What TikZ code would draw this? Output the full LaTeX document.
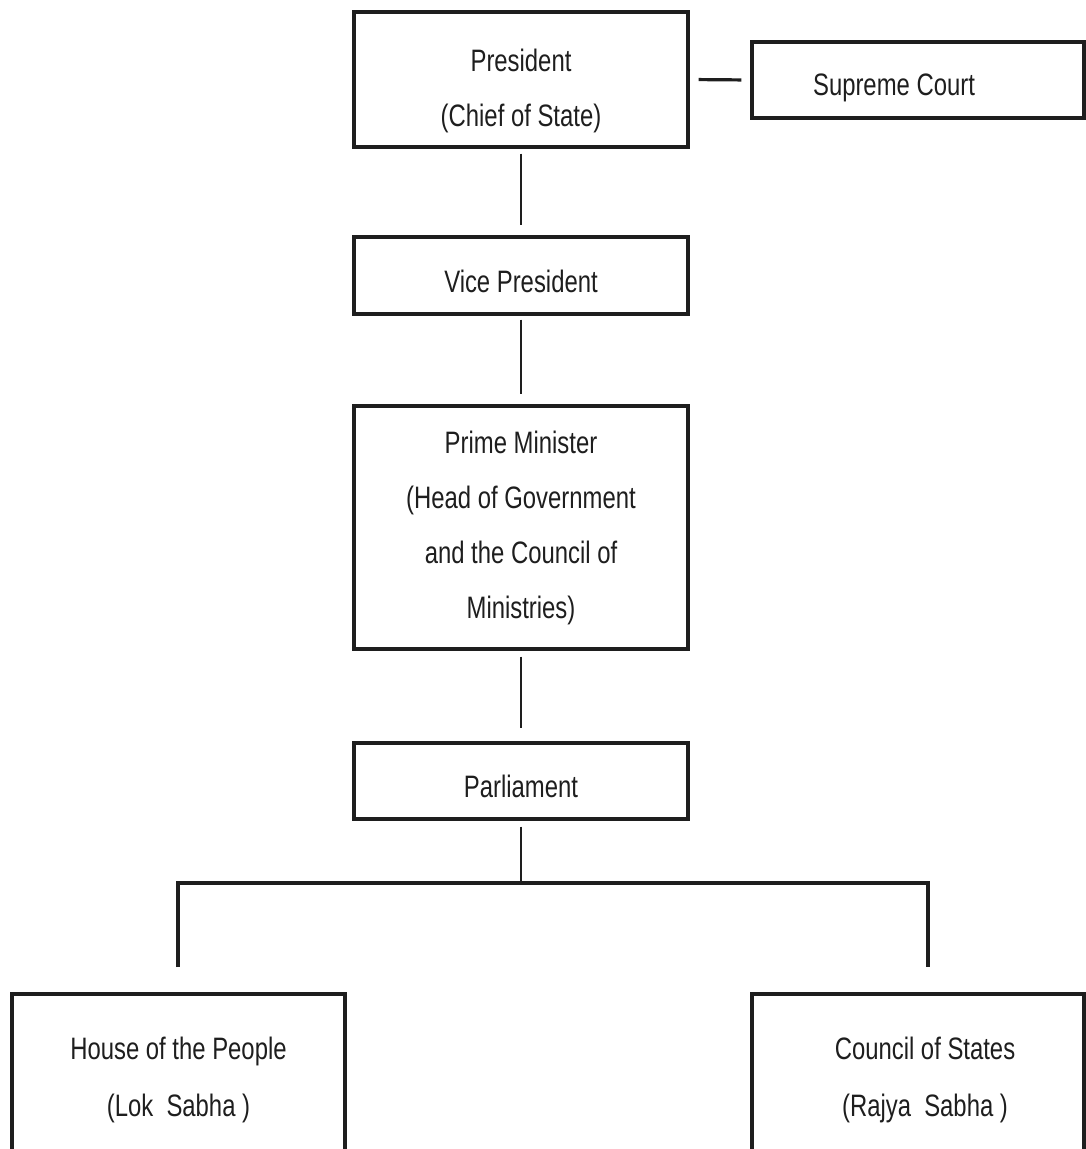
\documentclass[tikz,border=0pt]{standalone}
\usepackage{fontspec}
\setmainfont{Liberation Sans}[FakeStretch=0.77]
\usetikzlibrary{calc}
\definecolor{ink}{HTML}{1E1E1E}
\begin{document}
\begin{tikzpicture}[x=1pt,y=-1pt,
  box/.style={draw=ink,line width=3.4pt,inner sep=0pt,align=center,
    text=ink,font=\fontsize{31}{55}\selectfont,minimum width=334pt},
  link/.style={draw=ink,line width=2.8pt}]
\clip (0,0) rectangle (1086,1149);
\node[box,minimum height=135pt] (pres) at (521,79.5)
  {\rule{0pt}{46pt}President\\(Chief of State)};
\node[box,minimum width=332pt,minimum height=76pt] (sc) at (918,80)
  {\rule{0pt}{38pt}Supreme Court\hspace*{48pt}};
\node[box,minimum height=77pt] (vp) at (521,275.5) {\rule{0pt}{34pt}Vice President};
\node[box,minimum height=243pt] (pm) at (521,527.5)
  {Prime Minister\\(Head of Government\\and the Council of\\Ministries)};
\node[box,minimum height=76pt] (parl) at (521,781) {\rule{0pt}{34pt}Parliament};
\node[box,minimum width=333pt,minimum height=172pt,font=\fontsize{31}{57}\selectfont] (house) at (178.5,1080)
  {House of the People\\(Lok~~Sabha~)};
\node[box,minimum width=332pt,minimum height=172pt,font=\fontsize{31}{57}\selectfont] (council) at (918,1080)
  {\hspace*{14pt}Council of States\\\hspace*{14pt}(Rajya~~Sabha~)};
\coordinate (j) at (521,883);
\coordinate (lt) at (178,967);
\coordinate (rt) at (928,967);
\draw[link,line width=3.2pt,shorten <=9pt,shorten >=9pt] (pres.east) -- (sc.west);
\draw[link,shorten <=5pt,shorten >=10pt] (pres) -- (vp);
\draw[link,shorten <=4pt,shorten >=10pt] (vp) -- (pm);
\draw[link,shorten <=6pt,shorten >=13pt] (pm) -- (parl);
\draw[link] (parl.south) ++(0,6) -- (j);
\draw[link,line width=3.2pt] (lt) |- (j) -| (rt);
\end{tikzpicture}
\end{document}
